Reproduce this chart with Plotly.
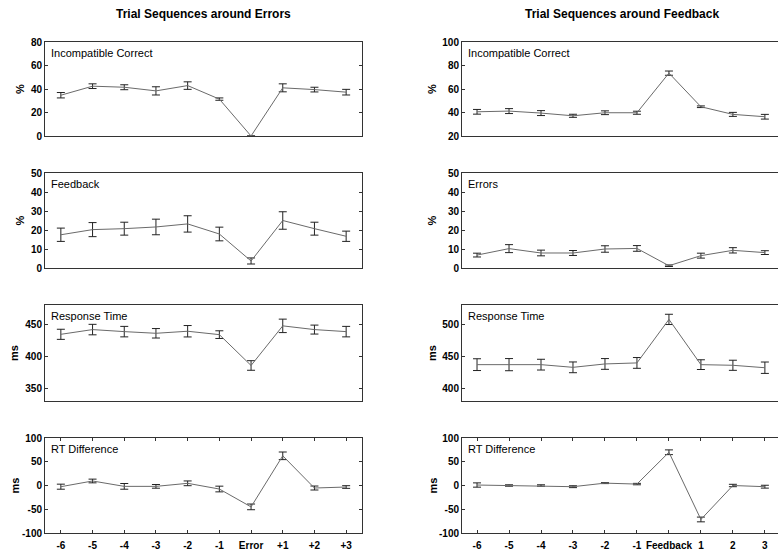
import plotly.graph_objects as go

W, H = 778, 550

left_labels = ["-6", "-5", "-4", "-3", "-2", "-1", "Error", "+1", "+2", "+3"]
right_labels = ["-6", "-5", "-4", "-3", "-2", "-1", "Feedback", "1", "2", "3"]

# Left column: around Errors
err_ic = [34.7, 42.4, 41.5, 38.4, 42.9, 31.4, 0.0, 41.0, 39.5, 37.3]
err_ic_e = [2.3, 2.0, 2.1, 3.5, 3.2, 1.0, 0.0, 3.4, 2.0, 2.4]
err_fb = [17.5, 20.2, 20.7, 21.6, 23.2, 17.9, 3.7, 25.0, 20.7, 16.7]
err_fb_e = [3.5, 3.7, 3.4, 4.1, 4.3, 3.6, 1.6, 4.6, 3.4, 2.7]
err_rt = [434.2, 441.6, 438.4, 435.8, 439.0, 433.7, 385.5, 447.4, 441.6, 438.4]
err_rt_e = [7.9, 8.2, 8.2, 7.4, 8.9, 6.0, 7.5, 10.5, 7.0, 8.2]
err_rd = [-2.5, 9.5, -1.8, -1.8, 4.6, -7.4, -45.0, 62.5, -5.3, -3.2]
err_rd_e = [5.3, 3.9, 6.0, 3.9, 5.0, 6.0, 6.0, 8.0, 4.2, 2.8]

# Right column: around Feedback
fb_ic = [40.6, 41.2, 39.5, 37.2, 39.8, 39.8, 73.5, 44.9, 38.4, 36.4]
fb_ic_e = [2.0, 2.1, 2.1, 1.3, 1.6, 1.3, 1.8, 0.7, 1.7, 2.0]
fb_er = [6.8, 10.2, 7.9, 7.9, 10.0, 10.3, 1.2, 6.5, 9.3, 8.1]
fb_er_e = [1.0, 2.1, 1.5, 1.3, 1.7, 1.5, 0.4, 1.3, 1.4, 1.0]
fb_rt = [436.8, 436.8, 436.8, 432.6, 437.9, 439.5, 507.5, 436.8, 435.8, 432.0]
fb_rt_e = [9.2, 9.5, 8.4, 8.4, 8.4, 8.4, 8.0, 7.6, 7.9, 8.9]
fb_rd = [1.0, 0.0, 0.0, -2.5, 5.0, 3.0, 70.0, -71.5, 0.0, -2.5]
fb_rd_e = [4.5, 1.5, 1.5, 2.0, 1.0, 1.5, 5.0, 5.0, 2.5, 3.0]

# y tick values per panel
yt_pct80 = [0, 20, 40, 60, 80]
yt_pct50 = [0, 10, 20, 30, 40, 50]
yt_rt_err = [350, 400, 450]
yt_rd = [-100, -50, 0, 50, 100]
yt_pct100 = [20, 40, 60, 80, 100]
yt_rt_fb = [400, 450, 500]

panels = [
    # (col, row, y, e, range, yticks, label, unit)
    (0, 0, err_ic, err_ic_e, [0, 80], yt_pct80, "Incompatible Correct", "%"),
    (0, 1, err_fb, err_fb_e, [0, 50], yt_pct50, "Feedback", "%"),
    (0, 2, err_rt, err_rt_e, [330, 480], yt_rt_err, "Response Time", "ms"),
    (0, 3, err_rd, err_rd_e, [-100, 100], yt_rd, "RT Difference", "ms"),
    (1, 0, fb_ic, fb_ic_e, [20, 100], yt_pct100, "Incompatible Correct", "%"),
    (1, 1, fb_er, fb_er_e, [0, 50], yt_pct50, "Errors", "%"),
    (1, 2, fb_rt, fb_rt_e, [380, 530], yt_rt_fb, "Response Time", "ms"),
    (1, 3, fb_rd, fb_rd_e, [-100, 100], yt_rd, "RT Difference", "ms"),
]

row_px = [(42, 136), (173, 268), (305, 401), (438, 533)]
col_px = [(45, 362), (462, 778)]
col_xrange = [[-0.5, 9.5], [-0.47, 9.41]]

FONT = "Arial, Liberation Sans, sans-serif"
AX = "#333333"
TICKFONT = dict(family=FONT, size=10, color="black", weight="bold")

fig = go.Figure()
layout = dict(
    width=W, height=H,
    margin=dict(l=0, r=0, t=0, b=0, autoexpand=False),
    paper_bgcolor="white", plot_bgcolor="white",
    showlegend=False,
    font=dict(family=FONT, size=11, color="black"),
)
annotations = []

for i, (col, row, y, e, yr, yt, label, unit) in enumerate(panels):
    n = i + 1
    xa = "x" if n == 1 else f"x{n}"
    ya = "y" if n == 1 else f"y{n}"
    cats = left_labels if col == 0 else right_labels
    xs = list(range(len(cats)))
    err_arr = list(e)
    fig.add_trace(go.Scatter(
        x=xs, y=y, mode="lines", xaxis=xa, yaxis=ya,
        line=dict(color="#6a6a6a", width=1),
        error_y=dict(type="data", array=err_arr, visible=True,
                     color="#222222", thickness=1, width=4),
    ))
    x0, x1 = col_px[col]
    t, b = row_px[row]
    bottom = row == 3
    xkey = "xaxis" if n == 1 else f"xaxis{n}"
    ykey = "yaxis" if n == 1 else f"yaxis{n}"
    layout[xkey] = dict(
        domain=[x0 / W, x1 / W], anchor=ya, automargin=False,
        range=col_xrange[col], tickmode="array", tickvals=xs,
        ticktext=cats, showticklabels=bottom, tickangle=0,
        ticks="inside" if bottom else "", ticklen=3, tickcolor=AX,
        ticklabelstandoff=3,
        showline=True, linecolor=AX, linewidth=1,
        mirror="ticks" if bottom else True,
        showgrid=False, zeroline=False,
        tickfont=TICKFONT,
    )
    layout[ykey] = dict(
        domain=[1 - b / H, 1 - t / H], anchor=xa, automargin=False,
        range=yr, tickmode="array", tickvals=yt,
        ticktext=[str(v) for v in yt],
        ticks="inside", ticklen=3, tickcolor=AX,
        showline=True, linecolor=AX, linewidth=1,
        mirror="ticks" if col == 0 else False,
        showgrid=False, zeroline=False,
        tickfont=TICKFONT,
    )
    annotations.append(dict(
        text=label, xref="paper", yref="paper",
        x=(x0 + 4) / W, y=1 - (t + 11) / H, xanchor="left", yanchor="middle",
        showarrow=False, font=dict(family=FONT, size=11, color="black"),
    ))
    if col == 0:
        ux = 20 if unit == "%" else 14
    else:
        ux = 432
    annotations.append(dict(
        text=unit, xref="paper", yref="paper",
        x=ux / W, y=1 - ((t + b) / 2) / H,
        xanchor="center", yanchor="middle", textangle=-90,
        showarrow=False, font=dict(family=FONT, size=11, color="black", weight="bold"),
    ))

annotations.append(dict(
    text="Trial Sequences around Errors", xref="paper", yref="paper",
    x=203 / W, y=1 - 14 / H, xanchor="center", yanchor="middle",
    showarrow=False, font=dict(family=FONT, size=12, color="black", weight="bold"),
))
annotations.append(dict(
    text="Trial Sequences around Feedback", xref="paper", yref="paper",
    x=622 / W, y=1 - 14 / H, xanchor="center", yanchor="middle",
    showarrow=False, font=dict(family=FONT, size=12, color="black", weight="bold"),
))

layout["annotations"] = annotations
fig.update_layout(**layout)
fig.write_html("out.html")
